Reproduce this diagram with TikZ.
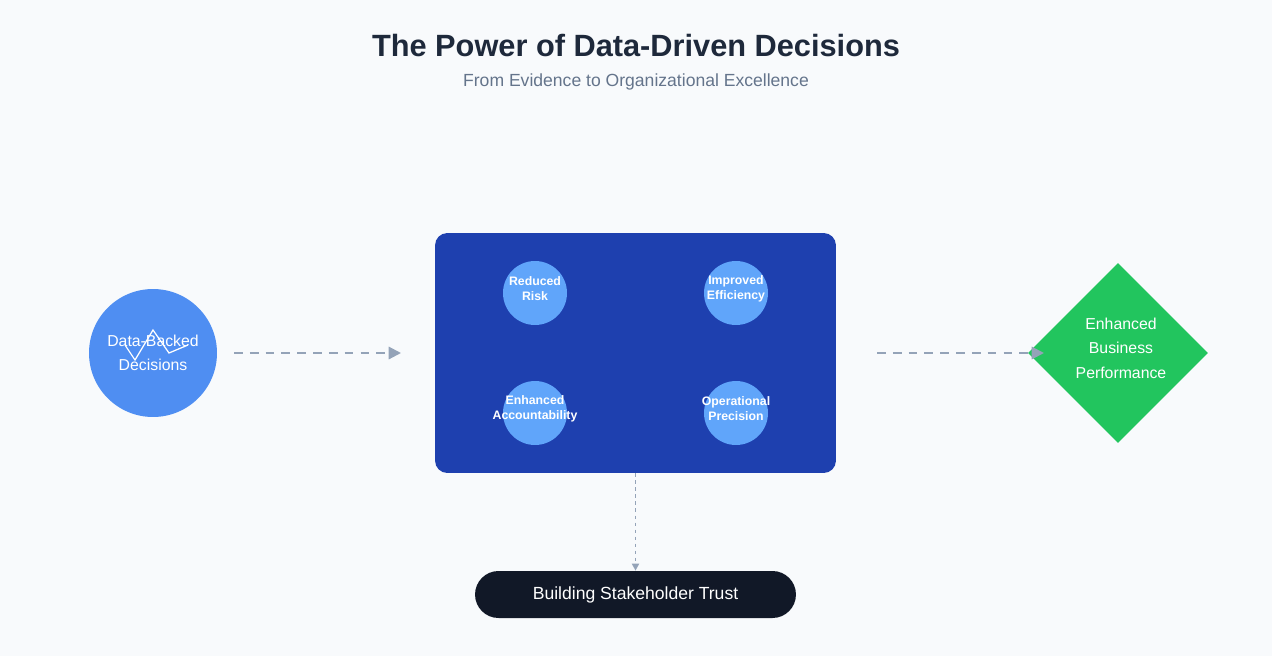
\documentclass[tikz,border=0pt]{standalone}
\usepackage{fontspec}
\setmainfont{Liberation Sans}
\usepackage{tikz}
\usetikzlibrary{shapes.geometric,arrows.meta}
\definecolor{bgc}{HTML}{F8FAFC}
\definecolor{titlec}{HTML}{1E293B}
\definecolor{subc}{HTML}{64748B}
\definecolor{bluec}{HTML}{4F8EF2}
\definecolor{boxc}{HTML}{1E40AF}
\definecolor{smallc}{HTML}{60A5FA}
\definecolor{greenc}{HTML}{22C55E}
\definecolor{arrowc}{HTML}{94A3B8}
\definecolor{pillc}{HTML}{111827}
\tikzset{
  factor/.style={circle,fill=smallc,minimum size=1.28cm,inner sep=0pt},
  factortext/.style={text=white,font=\fontsize{7}{8.5}\selectfont\bfseries,align=center,inner sep=0pt},
  flow/.style={draw=arrowc,line width=1.2pt,dash pattern=on 5pt off 4pt,-{Triangle[length=7pt,width=7pt]}}
}
\begin{document}
\begin{tikzpicture}[x=0.02cm,y=-0.02cm]
        % ---- canvas -----------------------------------
        \fill[bgc] (0,0) rectangle (1272,656);

        % ---- heading ----------------------------------
        \node[text=titlec,font=\fontsize{17.5}{20}\selectfont\bfseries] (title) at (636,46) {The Power of Data-Driven Decisions};
        \node[text=subc,font=\fontsize{10}{12}\selectfont] (subtitle) at (636,82) {From Evidence to Organizational Excellence};

        % ---- source circle ----------------------------
        \node[circle,fill=bluec,minimum size=2.56cm,inner sep=0pt] (data) at (153,353) {};
        \draw[white,line width=0.7pt] (125,345) -- (135,360) -- (153,330) -- (169,353) -- (188,345);
        \node[text=white,font=\fontsize{9}{14}\selectfont,align=center] (datatext) at (153,353) {Data-Backed\\Decisions};

        % ---- central block with four factors ----------
        \node[fill=boxc,rounded corners=7pt,minimum width=8.02cm,minimum height=4.8cm,inner sep=0pt] (hub) at (635.5,353) {};
        \node[factor] (risk) at (535,293) {};
        \node[factor] (eff) at (736,293) {};
        \node[factor] (acc) at (535,413) {};
        \node[factor] (prec) at (736,413) {};
        \node[factortext] (risktext) at (535,289) {Reduced\\Risk};
        \node[factortext] (efftext) at (736,289) {Improved\\Efficiency};
        \node[factortext] (acctext) at (535,409) {Enhanced\\Accountability};
        \node[factortext] (prectext) at (736,409) {Operational\\Precision};

        % ---- outcome diamond --------------------------
        \node[diamond,fill=greenc,minimum size=3.6cm,inner sep=0pt] (perf) at (1118,353) {};
        \node[text=white,font=\fontsize{9}{14}\selectfont,align=center] (perftext) at (1121,348) {Enhanced\\Business\\Performance};

        % ---- trust pill -------------------------------
        \node[fill=pillc,rounded corners=0.47cm,minimum width=6.42cm,minimum height=0.94cm,text=white,
          font=\fontsize{10}{12}\selectfont] (trust) at (635.5,594.5) {Building Stakeholder Trust};

        % ---- connectors -------------------------------
        \coordinate (a1) at (234,353);
        \coordinate (a2) at (401,353);
        \coordinate (b1) at (877,353);
        \coordinate (b2) at (1044,353);
        \draw[flow] (a1) -- (a2);
        \draw[flow] (b1) -- (b2);
        \draw[draw=arrowc,line width=1pt,dash pattern=on 2pt off 2pt,-{Triangle[length=4pt,width=4pt]}] (hub.south) -- (trust.north);
    \end{tikzpicture}
\end{document}
